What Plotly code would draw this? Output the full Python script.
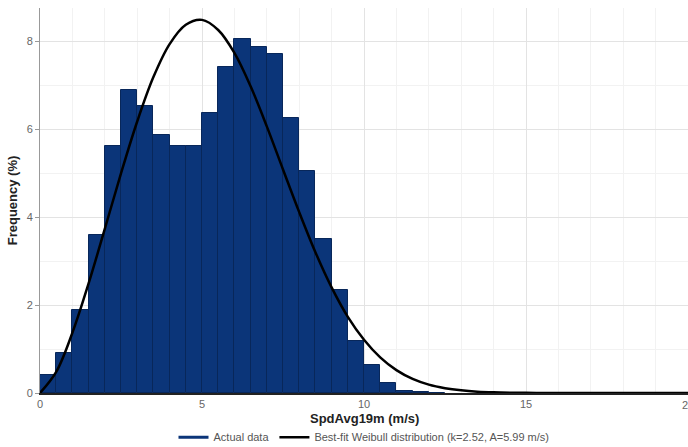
import plotly.graph_objects as go

# Histogram bins (left edges, m/s) and frequencies (%)
bin_left = [0.0, 0.5, 1.0, 1.5, 2.0, 2.5, 3.0, 3.5, 4.0, 4.5, 5.0, 5.5, 6.0, 6.5,
            7.0, 7.5, 8.0, 8.5, 9.0, 9.5, 10.0, 10.5, 11.0, 11.5, 12.0]
freq = [0.42, 0.92, 1.88, 3.58, 5.62, 6.89, 6.52, 5.87, 5.61, 5.61, 6.36, 7.42, 8.05, 7.86,
        7.70, 6.24, 5.05, 3.49, 2.34, 1.18, 0.64, 0.23, 0.05, 0.02, 0.01]
bin_width = 0.5

# Best-fit Weibull curve points (%)
fit_x = [0, 0.5, 1, 1.5, 2, 2.5, 3, 3.5, 4, 4.5, 5, 5.5, 6, 6.5, 7, 7.5, 8, 8.5,
         9, 9.5, 10, 10.5, 11, 11.5, 12, 12.5, 13, 13.5, 14, 15, 16, 18, 20]
fit_y = [0, 0.48, 1.37, 2.49, 3.73, 4.99, 6.17, 7.18, 7.93, 8.37, 8.48, 8.25, 7.73, 6.97,
         6.06, 5.08, 4.11, 3.20, 2.40, 1.73, 1.21, 0.81, 0.52, 0.32, 0.19, 0.11, 0.06,
         0.03, 0.015, 0.003, 0, 0, 0]

x_ticks = [0, 5, 10, 15, 20]
y_ticks = [0, 2, 4, 6, 8]
x_title = "SpdAvg19m (m/s)"
y_title = "Frequency (%)"

navy = "#0b3579"
font = "Liberation Sans, Arial, sans-serif"

fig = go.Figure()
fig.add_trace(go.Bar(
    x=[b + bin_width / 2 for b in bin_left], y=freq, width=bin_width,
    marker=dict(color=navy, line=dict(color="#08275a", width=1)),
    showlegend=False, hoverinfo="skip"))
fig.add_trace(go.Scatter(
    x=[None], y=[None], mode="lines", line=dict(color=navy, width=3),
    name="Actual data"))
fig.add_trace(go.Scatter(
    x=fit_x, y=fit_y, mode="lines", line=dict(color="black", width=2.5, shape="spline"),
    name="Best-fit Weibull distribution (k=2.52, A=5.99 m/s)"))

fig.update_layout(
    width=688, height=447,
    margin=dict(l=40, r=0, t=8, b=54, autoexpand=False),
    paper_bgcolor="white", plot_bgcolor="white",
    font=dict(family=font, size=11, color="#555"),
    bargap=0,
    legend=dict(orientation="h", x=0.5, xanchor="center",
                yref="container", y=0.022, yanchor="middle",
                font=dict(size=11, color="#555"), itemwidth=30, tracegroupgap=0),
    xaxis=dict(range=[0, 20], tickvals=x_ticks, ticktext=[str(v) for v in x_ticks],
               showgrid=True, gridcolor="#e3e3e3", gridwidth=1,
               minor=dict(dtick=1, showgrid=True, gridcolor="#f2f2f2"),
               showline=True, linecolor="#222", linewidth=2,
               ticks="", zeroline=False, automargin=False,
               tickfont=dict(size=11, color="#666")),
    yaxis=dict(range=[0, 8.75], tickvals=y_ticks, ticktext=[str(v) for v in y_ticks],
               showgrid=True, gridcolor="#e3e3e3", gridwidth=1,
               minor=dict(dtick=1, showgrid=True, gridcolor="#f2f2f2"),
               showline=True, linecolor="#999", linewidth=1,
               ticks="outside", ticklen=4, tickcolor="#999",
               zeroline=False, automargin=False,
               tickfont=dict(size=11, color="#666"),
               title=dict(text="<b>" + y_title + "</b>", font=dict(size=13, color="#222"),
                          standoff=6)),
)

# x-axis title, placed below the tick labels
fig.add_annotation(x=0.5, xref="paper", y=-0.066, yref="paper", yanchor="middle",
                   text="<b>" + x_title + "</b>", showarrow=False,
                   font=dict(size=13, color="#222"))

# last x tick label sits on the right edge and is cut off in the original
fig.add_annotation(x=x_ticks[-1], xref="x", y=-0.031, yref="paper", yanchor="middle",
                   text=str(x_ticks[-1]), showarrow=False,
                   font=dict(size=11, color="#666"))

fig.write_html("out.html")
